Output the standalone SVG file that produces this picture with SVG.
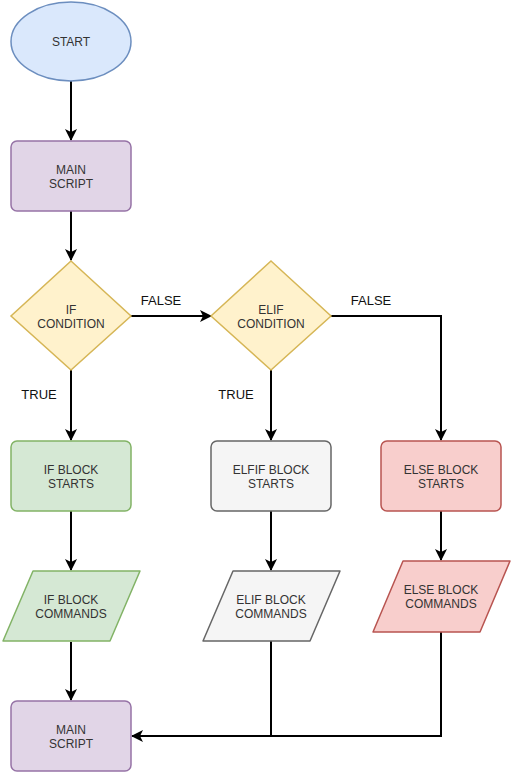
<svg xmlns="http://www.w3.org/2000/svg" width="512" height="772" viewBox="0 0 512 772">
<style>
.t{font-family:"Liberation Sans",Arial,sans-serif;font-size:12px;fill:#333;text-anchor:middle}
.l{font-family:"Liberation Sans",Arial,sans-serif;font-size:13px;fill:#111;text-anchor:middle}
.c{fill:none;stroke:#000;stroke-width:2}
.blue{fill:#dae8fc;stroke:#6c8ebf;stroke-width:1.5}
.purple{fill:#e1d5e7;stroke:#9673a6;stroke-width:1.5}
.yellow{fill:#fff2cc;stroke:#d6b656;stroke-width:1.5}
.green{fill:#d5e8d4;stroke:#82b366;stroke-width:1.5}
.grey{fill:#f5f5f5;stroke:#666;stroke-width:1.5}
.red{fill:#f8cecc;stroke:#b85450;stroke-width:1.5}
</style>
<defs>
<marker id="a" markerWidth="12" markerHeight="12" viewBox="0 0 12 12" refX="11" refY="6" orient="auto" markerUnits="userSpaceOnUse">
<path d="M0,0 L12,6 L0,12 L3,6 Z" fill="#000"/>
</marker>
</defs>
<rect width="512" height="772" fill="#fff"/>
<g id="connectors">
<path class="c" d="M71,81 V140" marker-end="url(#a)"/>
<path class="c" d="M71,211 V260" marker-end="url(#a)"/>
<path class="c" d="M131,316 H211" marker-end="url(#a)"/>
<path class="c" d="M71,370 V440" marker-end="url(#a)"/>
<path class="c" d="M271,370 V440" marker-end="url(#a)"/>
<path class="c" d="M331,316 H441 V440" marker-end="url(#a)"/>
<path class="c" d="M71,511 V570" marker-end="url(#a)"/>
<path class="c" d="M271,511 V570" marker-end="url(#a)"/>
<path class="c" d="M441,511 V560" marker-end="url(#a)"/>
<path class="c" d="M71,642 V700" marker-end="url(#a)"/>
<path class="c" d="M441,632 V736 H271"/>
<path class="c" d="M271,641 V736 H132" marker-end="url(#a)"/>
<text class="l" x="161" y="305">FALSE</text>
<text class="l" x="371" y="305">FALSE</text>
<text class="l" x="39" y="399">TRUE</text>
<text class="l" x="236" y="399">TRUE</text>
</g>
<g id="start">
<ellipse class="blue" cx="71" cy="41.5" rx="60" ry="39.5"/>
<text class="t" x="71" y="46">START</text>
</g>
<g id="main1">
<rect class="purple" x="11" y="141" width="120" height="70" rx="6"/>
<text class="t" x="71" y="174">MAIN</text>
<text class="t" x="71" y="188">SCRIPT</text>
</g>
<g id="ifcond">
<path class="yellow" d="M71,261 L131,316 L71,370 L11,316 Z"/>
<text class="t" x="71" y="314">IF</text>
<text class="t" x="71" y="328">CONDITION</text>
</g>
<g id="elifcond">
<path class="yellow" d="M271,261 L331,316 L271,370 L211,316 Z"/>
<text class="t" x="271" y="314">ELIF</text>
<text class="t" x="271" y="328">CONDITION</text>
</g>
<g id="ifblock">
<rect class="green" x="11" y="441" width="120" height="70" rx="6"/>
<text class="t" x="71" y="474">IF BLOCK</text>
<text class="t" x="71" y="488">STARTS</text>
</g>
<g id="elifblock">
<rect class="grey" x="211" y="441" width="120" height="70" rx="6"/>
<text class="t" x="271" y="474">ELFIF BLOCK</text>
<text class="t" x="271" y="488">STARTS</text>
</g>
<g id="elseblock">
<rect class="red" x="381" y="441" width="120" height="70" rx="6"/>
<text class="t" x="441" y="474">ELSE BLOCK</text>
<text class="t" x="441" y="488">STARTS</text>
</g>
<g id="ifcmd">
<path class="green" stroke-linejoin="round" d="M33,571 H140 L110,641 H3 Z"/>
<text class="t" x="71" y="604">IF BLOCK</text>
<text class="t" x="71" y="618">COMMANDS</text>
</g>
<g id="elifcmd">
<path class="grey" stroke-linejoin="round" d="M233,571 H340 L310,641 H203 Z"/>
<text class="t" x="271" y="604">ELIF BLOCK</text>
<text class="t" x="271" y="618">COMMANDS</text>
</g>
<g id="elsecmd">
<path class="red" stroke-linejoin="round" d="M403,561 H510 L480,632 H373 Z"/>
<text class="t" x="441" y="594">ELSE BLOCK</text>
<text class="t" x="441" y="608">COMMANDS</text>
</g>
<g id="main2">
<rect class="purple" x="11" y="701" width="120" height="70" rx="6"/>
<text class="t" x="71" y="734">MAIN</text>
<text class="t" x="71" y="748">SCRIPT</text>
</g>
</svg>
